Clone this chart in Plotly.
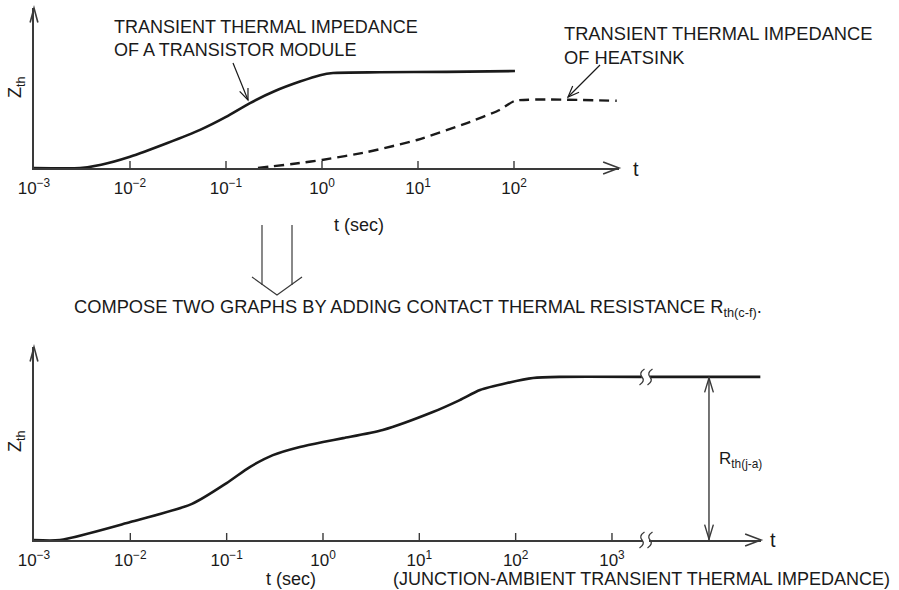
import math
import plotly.graph_objects as go

W, H = 899, 590
FONT = "Liberation Sans, Arial, Helvetica, sans-serif"
INK = "#1a1a1a"
AXIS = "#3a3a3a"

# ---- data (x in decades: log10 of t in seconds, Zth in relative units) ----
module_logt = [-3.0, -2.52, -2.3, -2.0, -1.61, -1.27, -1.0, -0.75, -0.49, -0.23, -0.02, 0.115, 0.6, 1.3, 2.01]
module_z = [0.0, 0.0, 0.02, 0.07, 0.156, 0.238, 0.319, 0.406, 0.481, 0.54, 0.58, 0.594, 0.598, 0.601, 0.606]

heatsink_logt = [-0.667, -0.23, 0.0, 0.47, 0.99, 1.51, 1.85, 2.01, 3.07]
heatsink_z = [0.0, 0.031, 0.05, 0.1, 0.175, 0.281, 0.3625, 0.42, 0.42]

total_logt = [-3.0, -2.73, -2.0, -1.36, -1.0, -0.76, -0.52, -0.24, 0.0, 0.21,
              0.62, 1.14, 1.42, 1.63, 1.91, 2.18, 2.46, 3.31]
total_z = [0.0, 0.0, 0.093, 0.187, 0.295, 0.378, 0.44, 0.482, 0.508, 0.528,
           0.57, 0.663, 0.725, 0.777, 0.813, 0.839, 0.845, 0.845]
steady_logt = [3.395, 4.54]
steady_z = [0.845, 0.845]
rth_ja = 0.845
rth_ja_at = 4.007

top_ticks = [-3, -2, -1, 0, 1, 2]
bottom_ticks = [-3, -2, -1, 0, 1, 2, 3]


def tick_text(vals):
    return ["10<sup>%s</sup>" % (str(v).replace("-", "\u2212")) for v in vals]


# ---- pixel helpers for decorations ----
def px(x):
    return x / W


def py(y):
    return 1 - y / H


def path_px(points):
    parts = []
    for i, (x, y) in enumerate(points):
        parts.append(("M" if i == 0 else "L") + " %.5f,%.5f" % (px(x), py(y)))
    return " ".join(parts)


def chevron(tip, src, length=13, half_angle=24):
    dx, dy = tip[0] - src[0], tip[1] - src[1]
    ang = math.atan2(dy, dx)
    pts = []
    for s in (-1, 1):
        a = ang + math.pi + s * math.radians(half_angle)
        pts.append((tip[0] + length * math.cos(a), tip[1] + length * math.sin(a)))
    return path_px([pts[0], tip, pts[1]])


def squiggle(cx, cy):
    return ("M %.5f,%.5f Q %.5f,%.5f %.5f,%.5f Q %.5f,%.5f %.5f,%.5f" % (
        px(cx + 2.5), py(cy - 8), px(cx - 3.5), py(cy - 4), px(cx), py(cy),
        px(cx + 3.5), py(cy + 4), px(cx - 2.5), py(cy + 8)))


def paper_path(path, color=AXIS, width=1.4):
    return dict(type="path", xref="paper", yref="paper", path=path,
                line=dict(color=color, width=width))


fig = go.Figure()

fig.add_trace(go.Scatter(x=module_logt, y=module_z, mode="lines",
                         line=dict(color=INK, width=2.6, shape="spline", smoothing=0.6),
                         xaxis="x", yaxis="y", hoverinfo="skip"))
fig.add_trace(go.Scatter(x=heatsink_logt, y=heatsink_z, mode="lines",
                         line=dict(color=INK, width=2.4, dash="10px,6px", shape="spline", smoothing=0.5),
                         xaxis="x", yaxis="y", hoverinfo="skip"))
fig.add_trace(go.Scatter(x=total_logt, y=total_z, mode="lines",
                         line=dict(color=INK, width=2.6, shape="spline", smoothing=0.7),
                         xaxis="x2", yaxis="y2", hoverinfo="skip"))
fig.add_trace(go.Scatter(x=steady_logt, y=steady_z, mode="lines",
                         line=dict(color=INK, width=2.6),
                         xaxis="x2", yaxis="y2", hoverinfo="skip"))

# axis placement: top graph origin at (34,168) px, bottom graph origin at (34,540) px
top_x_end = -3 + (619 - 34) / 96.0
bot_x_end = -3 + (761 - 34) / 96.33

axis_common = dict(showgrid=False, zeroline=False, showline=True, linecolor=AXIS, linewidth=1.6,
                   ticks="", ticklabelstandoff=4,
                   tickfont=dict(family=FONT, size=17, color=INK), fixedrange=True)

fig.update_layout(
    width=W, height=H,
    margin=dict(l=0, r=0, t=0, b=0, autoexpand=False),
    paper_bgcolor="white", plot_bgcolor="rgba(0,0,0,0)",
    showlegend=False,
    xaxis=dict(domain=[px(34), px(619)], range=[-3, top_x_end], anchor="y",
               tickmode="array", tickvals=top_ticks, ticktext=tick_text(top_ticks), **axis_common),
    yaxis=dict(domain=[py(168), py(8)], range=[0, 1], anchor="x", showgrid=False, zeroline=False,
               showline=True, linecolor=AXIS, linewidth=1.6, showticklabels=False, ticks="",
               fixedrange=True),
    xaxis2=dict(domain=[px(34), px(761)], range=[-3, bot_x_end], anchor="y2",
                tickmode="array", tickvals=bottom_ticks, ticktext=tick_text(bottom_ticks), **axis_common),
    yaxis2=dict(domain=[py(540), py(347)], range=[0, 1], anchor="x2", showgrid=False, zeroline=False,
                showline=True, linecolor=AXIS, linewidth=1.6, showticklabels=False, ticks="",
                fixedrange=True),
)

shapes = []
# tick marks standing up from each time axis
for xr, yr, vals in (("x", "y", top_ticks), ("x2", "y2", bottom_ticks)):
    for v in vals[1:]:
        shapes.append(dict(type="line", xref=xr, yref=yr, x0=v, x1=v,
                           ysizemode="pixel", yanchor=0, y0=0, y1=7,
                           line=dict(color=AXIS, width=1.4)))
# arrowheads on the axes
shapes.append(paper_path(chevron((34, 8), (34, 100), 15, 15), width=1.6))
shapes.append(paper_path(chevron((619, 168), (500, 168), 17, 21), width=1.6))
shapes.append(paper_path(chevron((34, 347), (34, 450), 15, 15), width=1.6))
shapes.append(paper_path(chevron((761, 540), (600, 540), 17, 21), width=1.6))
# break in the time axis of the lower graph
shapes.append(dict(type="rect", xref="paper", yref="paper", layer="above",
                   x0=px(643), x1=px(649), y0=py(544), y1=py(536),
                   fillcolor="white", line=dict(width=0)))
for cx in (642, 650):
    shapes.append(paper_path(squiggle(cx, 540), width=1.3))
    shapes.append(paper_path(squiggle(cx, 377), width=1.3))
# Rth(j-a) dimension arrow
shapes.append(dict(type="line", xref="x2", yref="y2", x0=rth_ja_at, y0=0, x1=rth_ja_at, y1=rth_ja,
                   line=dict(color=AXIS, width=1.4)))
shapes.append(paper_path(chevron((709, 378), (709, 460), 15, 17)))
shapes.append(paper_path(chevron((709, 539), (709, 460), 15, 17)))
# leader arrows
shapes.append(paper_path(path_px([(233, 63), (248, 100)]), INK, 1.2))
shapes.append(paper_path(chevron((248, 100), (233, 63), 12, 22), INK, 1.2))
shapes.append(paper_path(path_px([(600, 65), (568, 97)]), INK, 1.2))
shapes.append(paper_path(chevron((568, 97), (600, 65), 12, 22), INK, 1.2))
# hollow "compose" arrow between the graphs
shapes.append(paper_path(path_px([(262, 225), (262, 285)]), AXIS, 1.2))
shapes.append(paper_path(path_px([(292, 225), (292, 285)]), AXIS, 1.2))
shapes.append(paper_path(path_px([(252, 277), (277, 295), (302, 277)]), AXIS, 1.2))
fig.update_layout(shapes=shapes)


def note(text, x, y, size=18, xanchor="left", yanchor="middle", angle=0, align="left"):
    fig.add_annotation(text=text, x=px(x), y=py(y), xref="paper", yref="paper",
                       xanchor=xanchor, yanchor=yanchor, showarrow=False, align=align,
                       textangle=angle, font=dict(family=FONT, size=size, color=INK))


note("TRANSIENT THERMAL IMPEDANCE<br>OF A TRANSISTOR MODULE", 112, 38.5, 18)
note("TRANSIENT THERMAL IMPEDANCE<br>OF HEATSINK", 562, 45.5, 18.3)
note("Z<sub>th</sub>", 16, 87, 18, xanchor="center", angle=-90)
note("Z<sub>th</sub>", 16, 441, 18, xanchor="center", angle=-90)
note("t", 636, 169, 20, xanchor="center")
note("t", 773, 540, 20, xanchor="center")
note("t (sec)", 359, 225, 18, xanchor="center")
note("t (sec)", 291, 579, 18, xanchor="center")
note("COMPOSE TWO GRAPHS BY ADDING CONTACT THERMAL RESISTANCE R<sub>th(c-f)</sub>.", 72, 308, 18.3)
note("R<sub>th(j-a)</sub>", 717, 460, 17)
note("(JUNCTION-AMBIENT TRANSIENT THERMAL IMPEDANCE)", 391, 579, 18)

fig.write_html("out.html")
